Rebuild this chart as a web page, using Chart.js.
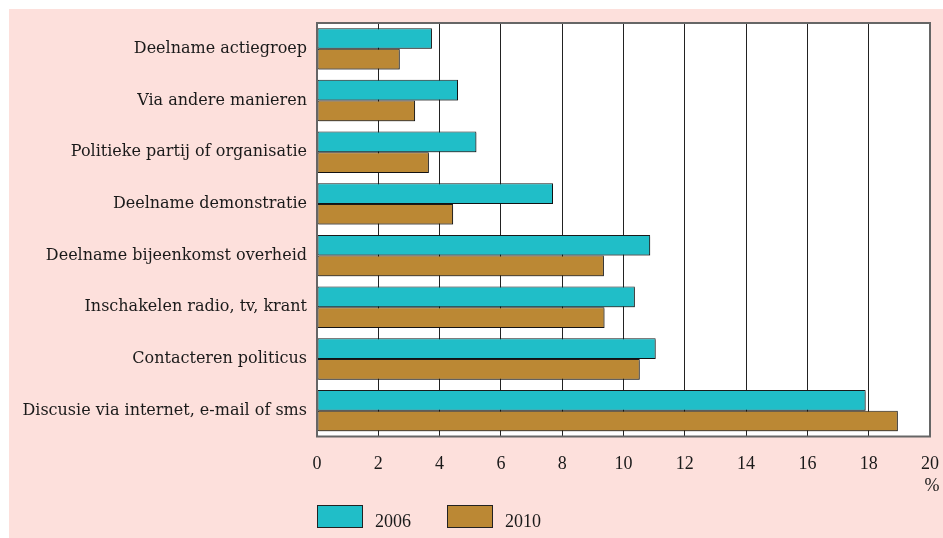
<!DOCTYPE html>
<html><head><meta charset="utf-8">
<script src="https://cdn.jsdelivr.net/npm/chart.js@4/dist/chart.umd.min.js"></script>
<style>html,body{margin:0;padding:0;background:#fff;}#wrap{width:943px;height:538px;position:relative;}</style>
</head><body><div id="wrap"><canvas id="c" width="943" height="538"></canvas></div>
<script>
const categories = ['Deelname actiegroep','Via andere manieren','Politieke partij of organisatie','Deelname demonstratie','Deelname bijeenkomst overheid','Inschakelen radio, tv, krant','Contacteren politicus','Discusie via internet, e-mail of sms'];
const series2006 = [3.75, 4.6, 5.2, 7.7, 10.87, 10.37, 11.05, 17.9];
const series2010 = [2.7, 3.2, 3.65, 4.44, 9.36, 9.38, 10.53, 18.95];
const seriesNames = ['2006','2010'];
const xTicks = [0,2,4,6,8,10,12,14,16,18,20];
const unitLabel = '%';

const FONT = '"Liberation Serif", serif';
const LFONT = '"DejaVu Serif", serif';
const TXT = '#1a1a1a';

const bgPlugin = {
  id:'bg',
  beforeDraw(chart){
    const ctx = chart.ctx; ctx.save();
    ctx.fillStyle = '#fde0dc'; ctx.fillRect(9,9,chart.width-9,chart.height-9);
    const a = chart.chartArea;
    ctx.fillStyle = '#fff'; ctx.fillRect(a.left,a.top,a.right-a.left,a.bottom-a.top);
    ctx.restore();
  },
  beforeDatasetsDraw(chart){
    const ctx = chart.ctx; ctx.save();
    ctx.shadowColor = 'rgba(0,0,0,0.3)'; ctx.shadowOffsetX = 1.5; ctx.shadowOffsetY = 1.5; ctx.shadowBlur = 0;
  },
  afterDatasetsDraw(chart){ chart.ctx.restore(); },
  afterDraw(chart){
    const ctx = chart.ctx, a = chart.chartArea; ctx.save();
    ctx.strokeStyle = '#666'; ctx.lineWidth = 2;
    ctx.strokeRect(a.left, a.top, a.right-a.left, a.bottom-a.top);
    ctx.font = '18px ' + FONT; ctx.fillStyle = TXT; ctx.textAlign = 'center'; ctx.textBaseline = 'alphabetic';
    ctx.fillText(unitLabel, a.right+2, 491);
    ctx.textAlign = 'left';
    chart.data.datasets.forEach((d,i)=>{
      const x = a.left + i*130;
      ctx.fillStyle = d.backgroundColor; ctx.fillRect(x,505,45,22);
      ctx.strokeStyle = '#222'; ctx.lineWidth = 1; ctx.strokeRect(x+0.5,505.5,45,22);
      ctx.fillStyle = TXT; ctx.fillText(d.label, x+58, 527);
    });
    ctx.restore();
  }
};

new Chart(document.getElementById('c'), {
  type:'bar',
  data:{
    labels: categories,
    datasets:[
      {label:seriesNames[0], data:series2006, backgroundColor:'#20bec8', borderColor:'#1a1a1a', borderWidth:1, borderSkipped:false},
      {label:seriesNames[1], data:series2010, backgroundColor:'#bb8834', borderColor:'#1a1a1a', borderWidth:1, borderSkipped:false}
    ]
  },
  options:{
    indexAxis:'y',
    responsive:false, animation:false,
    layout:{padding:{left:0,top:23,right:13,bottom:0}},
    plugins:{legend:{display:false}, tooltip:{enabled:false}},
    datasets:{bar:{categoryPercentage:0.8, barPercentage:1.0}},
    scales:{
      x:{
        min:0, max:20,
        afterBuildTicks(s){ s.ticks = xTicks.map(v=>({value:v})); },
        afterFit(s){ s.height = 101.5; s.paddingLeft = 0; s.paddingRight = 0; },
        grid:{color:'#222', lineWidth:1, drawTicks:false},
        border:{display:false},
        ticks:{font:{family:FONT,size:18}, color:TXT, padding:17, maxRotation:0},
        title:{display:false}
      },
      y:{
        afterFit(s){ s.width = 317; s.paddingTop = 0; s.paddingBottom = 0; },
        grid:{display:false, drawTicks:false},
        border:{display:false},
        ticks:{font:{family:LFONT,size:16}, color:TXT, padding:10}
      }
    }
  },
  plugins:[bgPlugin]
});
</script></body></html>
